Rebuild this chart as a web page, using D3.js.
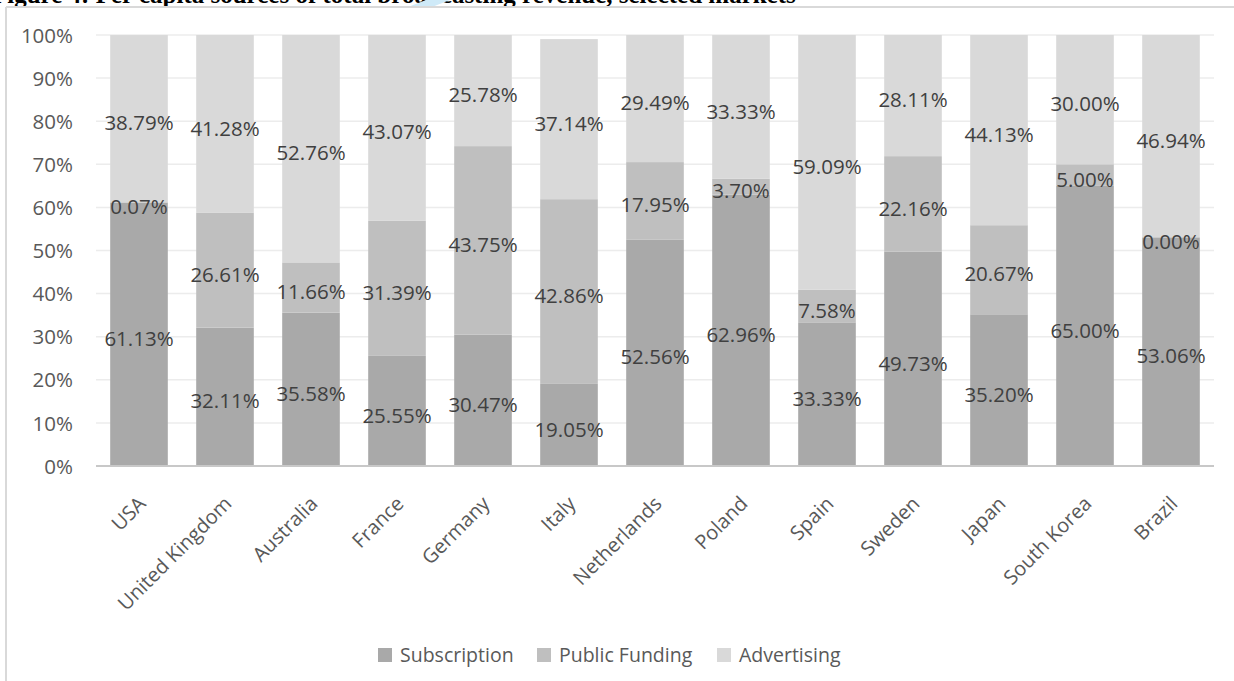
<!DOCTYPE html>
<html>
<head>
<meta charset="utf-8">
<script src="https://cdn.jsdelivr.net/npm/d3@7"></script>
<style>
  html, body { margin: 0; padding: 0; background: #fff; overflow: hidden; }
  svg { display: block; }
</style>
</head>
<body>
<svg id="chart" width="1234" height="681"></svg>
<script>
// Revenue mix by source, per market (percent of total)
const categories = ["USA", "United Kingdom", "Australia", "France", "Germany", "Italy",
  "Netherlands", "Poland", "Spain", "Sweden", "Japan", "South Korea", "Brazil"];
const subscription  = [61.13, 32.11, 35.58, 25.55, 30.47, 19.05, 52.56, 62.96, 33.33, 49.73, 35.20, 65.00, 53.06];
const publicFunding = [0.07, 26.61, 11.66, 31.39, 43.75, 42.86, 17.95, 3.70, 7.58, 22.16, 20.67, 5.00, 0.00];
const advertising   = [38.79, 41.28, 52.76, 43.07, 25.78, 37.14, 29.49, 33.33, 59.09, 28.11, 44.13, 30.00, 46.94];
const seriesNames = ["Subscription", "Public Funding", "Advertising"];
const yTicks = [0, 10, 20, 30, 40, 50, 60, 70, 80, 90, 100];
const titleText = "Figure 4: Per capita sources of total broadcasting revenue, selected markets";

const colors = ["#a9a9a9", "#bfbfbf", "#d9d9d9"];
const font = "'Open Sans', 'DejaVu Sans', sans-serif";
const textColor = "#595959";

const svg = d3.select("#chart");

// Figure caption running above the chart frame (page top cuts through it)
svg.append("text")
  .attr("x", -8).attr("y", 2.5)
  .attr("font-family", "'Liberation Serif', 'Times New Roman', serif")
  .attr("font-weight", "bold").attr("font-size", 25)
  .attr("fill", "#000")
  .text(titleText);
svg.append("polygon")
  .attr("points", "408,7 426,0 450,0 432,7")
  .attr("fill", "#cfeaf8");

// Chart frame
svg.append("line").attr("x1", 6).attr("x2", 1234).attr("y1", 7).attr("y2", 7)
  .attr("stroke", "#d9d9d9").attr("stroke-width", 2);
svg.append("line").attr("x1", 6).attr("x2", 6).attr("y1", 7).attr("y2", 681)
  .attr("stroke", "#d9d9d9").attr("stroke-width", 2);

const plot = { left: 96, right: 1214, top: 35, bottom: 466 };

const x = d3.scaleBand()
  .domain(categories)
  .range([plot.left, plot.right])
  .paddingInner(0.33)
  .paddingOuter(0.165);

const y = d3.scaleLinear().domain([0, 100]).range([plot.bottom, plot.top]);

// Gridlines
svg.append("g")
  .selectAll("line")
  .data(yTicks.filter(t => t > 0))
  .join("line")
  .attr("x1", plot.left).attr("x2", plot.right)
  .attr("y1", d => y(d)).attr("y2", d => y(d))
  .attr("stroke", "#ececec").attr("stroke-width", 1.5);

// Y axis labels
const yAxis = d3.axisLeft(y).tickValues(yTicks).tickFormat(d => d + "%").tickSize(0).tickPadding(0);
const yg = svg.append("g").attr("transform", `translate(73,0)`).call(yAxis);
yg.select(".domain").remove();
yg.selectAll("text")
  .attr("font-family", font).attr("font-size", 20.5)
  .attr("fill", textColor).attr("dy", "0.35em");

// Stacked bars
const rows = categories.map((c, i) => ({
  category: c,
  Subscription: subscription[i],
  "Public Funding": publicFunding[i],
  Advertising: advertising[i]
}));
const stack = d3.stack().keys(seriesNames)(rows);

const layers = svg.append("g").selectAll("g")
  .data(stack)
  .join("g")
  .attr("fill", (d, i) => colors[i]);

layers.selectAll("rect")
  .data(d => d)
  .join("rect")
  .attr("x", d => x(d.data.category))
  .attr("width", x.bandwidth())
  .attr("y", d => y(d[1]))
  .attr("height", d => y(d[0]) - y(d[1]));

// X axis baseline
svg.append("line")
  .attr("x1", plot.left).attr("x2", plot.right)
  .attr("y1", plot.bottom).attr("y2", plot.bottom)
  .attr("stroke", "#c8c8c8").attr("stroke-width", 2);

// Value labels centred on each segment
const labels = svg.append("g");
stack.forEach(layer => {
  labels.selectAll(null)
    .data(layer)
    .join("text")
    .attr("x", d => x(d.data.category) + x.bandwidth() / 2)
    .attr("y", d => (y(d[0]) + y(d[1])) / 2 + 4.5)
    .attr("dy", "0.35em")
    .attr("text-anchor", "middle")
    .attr("font-family", font).attr("font-size", 20.5)
    .attr("fill", "#404040")
    .text(d => (d[1] - d[0]).toFixed(2) + "%");
});

// Category labels, rotated
svg.append("g").selectAll("text")
  .data(categories)
  .join("text")
  .attr("transform", d => `translate(${x(d) + x.bandwidth() / 2 + 3},${plot.bottom + 34}) rotate(-45)`)
  .attr("text-anchor", "end")
  .attr("dy", "0.35em")
  .attr("font-family", font).attr("font-size", 20)
  .attr("fill", textColor)
  .text(d => d);

// Legend
const legendItems = [
  { name: "Subscription", sx: 378 },
  { name: "Public Funding", sx: 537 },
  { name: "Advertising", sx: 717 }
];
const lg = svg.append("g").selectAll("g").data(legendItems).join("g");
lg.append("rect")
  .attr("x", d => d.sx).attr("y", 648)
  .attr("width", 14).attr("height", 14)
  .attr("fill", (d, i) => colors[i]);
lg.append("text")
  .attr("x", d => d.sx + 22).attr("y", 655)
  .attr("dy", "0.35em")
  .attr("font-family", font).attr("font-size", 19.5)
  .attr("fill", textColor)
  .text(d => d.name);
</script>
</body>
</html>
